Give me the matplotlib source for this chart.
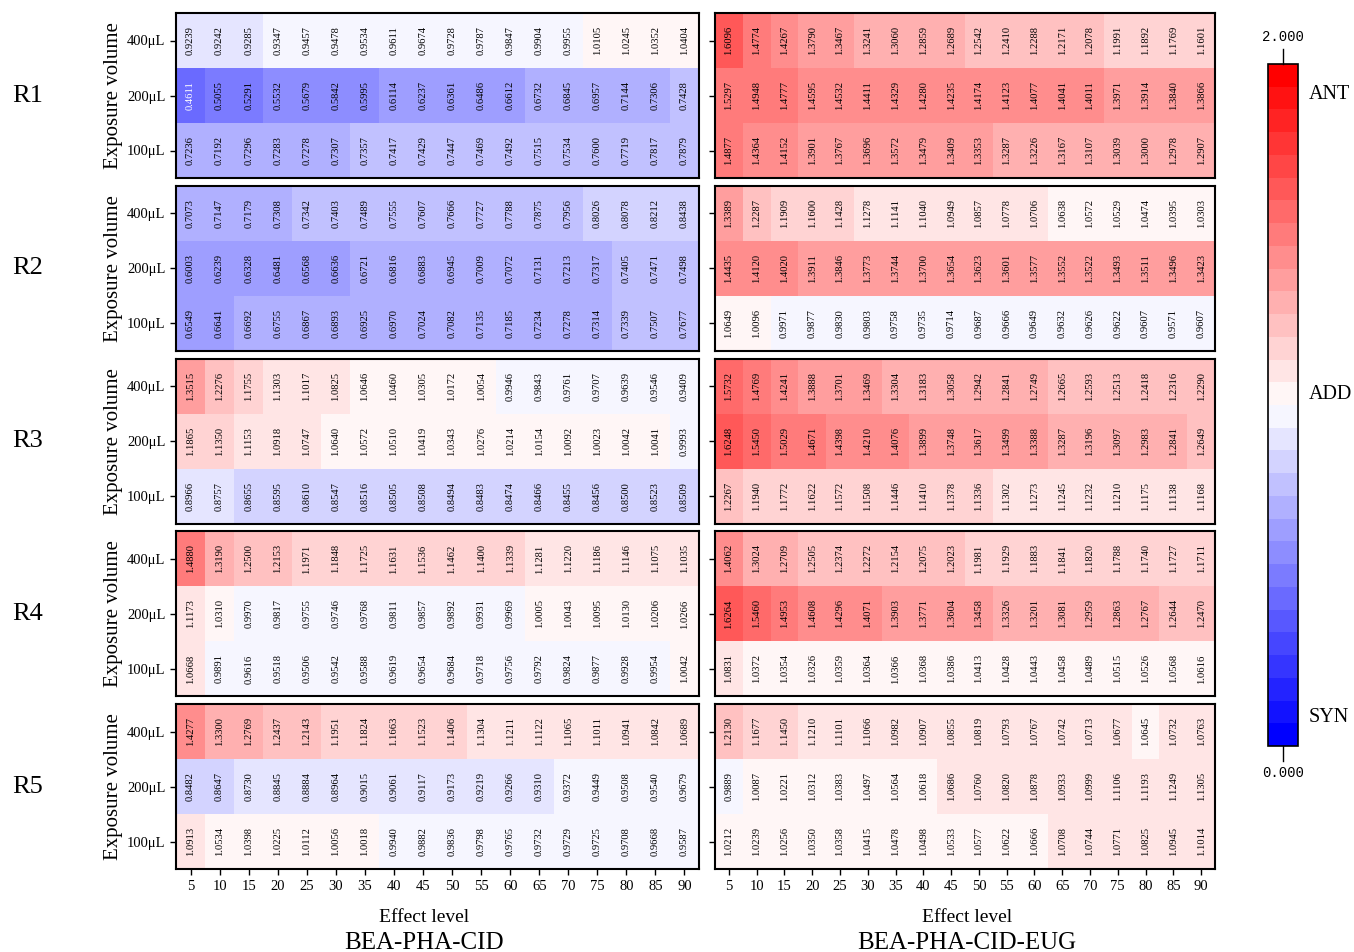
import matplotlib
matplotlib.use("Agg")
import matplotlib.pyplot as plt
import numpy as np

plt.rcParams['font.family'] = ['Liberation Serif', 'DejaVu Serif']

effect_levels = [5, 10, 15, 20, 25, 30, 35, 40, 45, 50, 55, 60, 65, 70, 75, 80, 85, 90]
volumes = ['400μL', '200μL', '100μL']
rows = ['R1', 'R2', 'R3', 'R4', 'R5']
mixtures = ['BEA-PHA-CID', 'BEA-PHA-CID-EUG']

# BEA-PHA-CID, rows: 400, 200, 100 uL
r1_cid = [[0.9239, 0.9242, 0.9285, 0.9347, 0.9457, 0.9478, 0.9534, 0.9611, 0.9674, 0.9728, 0.9787, 0.9847, 0.9904, 0.9955, 1.0105, 1.0245, 1.0352, 1.0404],
          [0.4611, 0.5055, 0.5291, 0.5532, 0.5679, 0.5842, 0.5995, 0.6114, 0.6237, 0.6361, 0.6486, 0.6612, 0.6732, 0.6845, 0.6957, 0.7144, 0.7306, 0.7428],
          [0.7236, 0.7192, 0.7296, 0.7283, 0.7278, 0.7307, 0.7357, 0.7417, 0.7429, 0.7447, 0.7469, 0.7492, 0.7515, 0.7534, 0.7600, 0.7719, 0.7817, 0.7879]]
r2_cid = [[0.7073, 0.7147, 0.7179, 0.7308, 0.7342, 0.7403, 0.7489, 0.7555, 0.7607, 0.7666, 0.7727, 0.7788, 0.7875, 0.7956, 0.8026, 0.8078, 0.8212, 0.8438],
          [0.6003, 0.6239, 0.6328, 0.6481, 0.6568, 0.6636, 0.6721, 0.6816, 0.6883, 0.6945, 0.7009, 0.7072, 0.7131, 0.7213, 0.7317, 0.7405, 0.7471, 0.7498],
          [0.6549, 0.6641, 0.6692, 0.6755, 0.6867, 0.6893, 0.6925, 0.6970, 0.7024, 0.7082, 0.7135, 0.7185, 0.7234, 0.7278, 0.7314, 0.7339, 0.7507, 0.7677]]
r3_cid = [[1.3515, 1.2276, 1.1755, 1.1303, 1.1017, 1.0825, 1.0646, 1.0460, 1.0305, 1.0172, 1.0054, 0.9946, 0.9843, 0.9761, 0.9707, 0.9639, 0.9546, 0.9409],
          [1.1865, 1.1350, 1.1153, 1.0918, 1.0747, 1.0640, 1.0572, 1.0510, 1.0419, 1.0343, 1.0276, 1.0214, 1.0154, 1.0092, 1.0023, 1.0042, 1.0041, 0.9993],
          [0.8966, 0.8757, 0.8655, 0.8595, 0.8610, 0.8547, 0.8516, 0.8505, 0.8508, 0.8494, 0.8483, 0.8474, 0.8466, 0.8455, 0.8456, 0.8500, 0.8523, 0.8509]]
r4_cid = [[1.4880, 1.3190, 1.2500, 1.2153, 1.1971, 1.1848, 1.1725, 1.1631, 1.1536, 1.1462, 1.1400, 1.1339, 1.1281, 1.1220, 1.1186, 1.1146, 1.1075, 1.1035],
          [1.1173, 1.0310, 0.9970, 0.9817, 0.9755, 0.9746, 0.9768, 0.9811, 0.9857, 0.9892, 0.9931, 0.9969, 1.0005, 1.0043, 1.0095, 1.0130, 1.0206, 1.0266],
          [1.0668, 0.9891, 0.9616, 0.9518, 0.9506, 0.9542, 0.9588, 0.9619, 0.9654, 0.9684, 0.9718, 0.9756, 0.9792, 0.9824, 0.9877, 0.9928, 0.9954, 1.0042]]
r5_cid = [[1.4277, 1.3300, 1.2769, 1.2437, 1.2143, 1.1951, 1.1824, 1.1663, 1.1523, 1.1406, 1.1304, 1.1211, 1.1122, 1.1065, 1.1011, 1.0941, 1.0842, 1.0689],
          [0.8482, 0.8647, 0.8730, 0.8845, 0.8884, 0.8964, 0.9015, 0.9061, 0.9117, 0.9173, 0.9219, 0.9266, 0.9310, 0.9372, 0.9449, 0.9508, 0.9540, 0.9679],
          [1.0913, 1.0534, 1.0398, 1.0225, 1.0112, 1.0056, 1.0018, 0.9940, 0.9882, 0.9836, 0.9798, 0.9765, 0.9732, 0.9729, 0.9725, 0.9708, 0.9668, 0.9587]]

# BEA-PHA-CID-EUG
r1_eug = [[1.6096, 1.4774, 1.4267, 1.3790, 1.3467, 1.3241, 1.3060, 1.2859, 1.2689, 1.2542, 1.2410, 1.2288, 1.2171, 1.2078, 1.1991, 1.1892, 1.1769, 1.1601],
          [1.5297, 1.4948, 1.4777, 1.4595, 1.4532, 1.4411, 1.4329, 1.4280, 1.4235, 1.4174, 1.4123, 1.4077, 1.4041, 1.4011, 1.3971, 1.3914, 1.3840, 1.3866],
          [1.4877, 1.4364, 1.4152, 1.3901, 1.3767, 1.3696, 1.3572, 1.3479, 1.3409, 1.3353, 1.3287, 1.3226, 1.3167, 1.3107, 1.3039, 1.3000, 1.2978, 1.2907]]
r2_eug = [[1.3389, 1.2287, 1.1909, 1.1600, 1.1428, 1.1278, 1.1141, 1.1040, 1.0949, 1.0857, 1.0778, 1.0706, 1.0638, 1.0572, 1.0529, 1.0474, 1.0395, 1.0303],
          [1.4435, 1.4120, 1.4020, 1.3911, 1.3846, 1.3773, 1.3744, 1.3700, 1.3654, 1.3623, 1.3601, 1.3577, 1.3552, 1.3522, 1.3493, 1.3511, 1.3496, 1.3423],
          [1.0649, 1.0096, 0.9971, 0.9877, 0.9830, 0.9803, 0.9758, 0.9735, 0.9714, 0.9687, 0.9666, 0.9649, 0.9632, 0.9626, 0.9622, 0.9607, 0.9571, 0.9607]]
r3_eug = [[1.5732, 1.4769, 1.4241, 1.3888, 1.3701, 1.3469, 1.3304, 1.3183, 1.3058, 1.2942, 1.2841, 1.2749, 1.2665, 1.2593, 1.2513, 1.2418, 1.2316, 1.2290],
          [1.6248, 1.5450, 1.5029, 1.4671, 1.4398, 1.4210, 1.4076, 1.3899, 1.3748, 1.3617, 1.3499, 1.3388, 1.3287, 1.3196, 1.3097, 1.2983, 1.2841, 1.2649],
          [1.2267, 1.1940, 1.1772, 1.1622, 1.1572, 1.1508, 1.1446, 1.1410, 1.1378, 1.1336, 1.1302, 1.1273, 1.1245, 1.1232, 1.1210, 1.1175, 1.1138, 1.1168]]
r4_eug = [[1.4062, 1.3024, 1.2709, 1.2505, 1.2374, 1.2272, 1.2154, 1.2075, 1.2023, 1.1981, 1.1929, 1.1883, 1.1841, 1.1820, 1.1788, 1.1740, 1.1727, 1.1711],
          [1.6264, 1.5460, 1.4953, 1.4608, 1.4296, 1.4071, 1.3903, 1.3771, 1.3604, 1.3458, 1.3326, 1.3201, 1.3081, 1.2959, 1.2863, 1.2767, 1.2644, 1.2470],
          [1.0831, 1.0372, 1.0354, 1.0326, 1.0359, 1.0364, 1.0366, 1.0368, 1.0386, 1.0413, 1.0428, 1.0443, 1.0458, 1.0489, 1.0515, 1.0526, 1.0568, 1.0616]]
r5_eug = [[1.2130, 1.1677, 1.1450, 1.1210, 1.1101, 1.1066, 1.0982, 1.0907, 1.0855, 1.0819, 1.0793, 1.0767, 1.0742, 1.0713, 1.0677, 1.0645, 1.0732, 1.0763],
          [0.9889, 1.0087, 1.0221, 1.0312, 1.0383, 1.0497, 1.0564, 1.0618, 1.0686, 1.0760, 1.0820, 1.0878, 1.0933, 1.0999, 1.1106, 1.1193, 1.1249, 1.1305],
          [1.0212, 1.0239, 1.0256, 1.0350, 1.0358, 1.0415, 1.0478, 1.0498, 1.0533, 1.0577, 1.0622, 1.0666, 1.0708, 1.0744, 1.0771, 1.0825, 1.0945, 1.1014]]

cid_data = [r1_cid, r2_cid, r3_cid, r4_cid, r5_cid]
eug_data = [r1_eug, r2_eug, r3_eug, r4_eug, r5_eug]

cmap = plt.get_cmap('bwr', 30)
norm = matplotlib.colors.Normalize(vmin=0, vmax=2)

fig = plt.figure(figsize=(13.54, 9.52), dpi=100)

col_left = [176 / 1354, 715 / 1354]
col_width = [523 / 1354, 500 / 1354]
label_x = [0.475, 0.504]
row_h = 165 / 952
row_gap = 7.8 / 952
top = 1 - 13 / 952

mesh = None
for c, data in enumerate([cid_data, eug_data]):
    for r in range(5):
        bottom = top - (r + 1) * row_h - r * row_gap
        ax = fig.add_axes([col_left[c], bottom, col_width[c], row_h])
        arr = np.array(data[r])
        mesh = ax.pcolormesh(np.arange(len(effect_levels) + 1), np.arange(len(volumes) + 1),
                             arr, cmap=cmap, norm=norm)
        ax.set_xlim(0, len(effect_levels))
        ax.set_ylim(len(volumes), 0)
        for i in range(arr.shape[0]):
            for j in range(arr.shape[1]):
                v = arr[i, j]
                ax.text(j + 0.5, i + 0.5, '%.4f' % v, rotation=90, ha='center', va='center',
                        fontsize=7.6, color='white' if v < 0.48 else 'black')
        ax.set_yticks(np.arange(len(volumes)) + 0.5)
        if c == 0:
            ax.set_yticklabels(volumes, fontsize=10.5)
            ax.set_ylabel('Exposure volume', fontsize=15, labelpad=3)
            fig.text(28 / 1354, bottom + row_h / 2, rows[r], fontsize=19,
                     ha='center', va='center')
        else:
            ax.set_yticklabels([])
        if r == 4:
            ax.set_xticks(np.arange(len(effect_levels)) + 0.5)
            ax.set_xticklabels(effect_levels, fontsize=10.5)
            ax.text(label_x[c], -0.29, 'Effect level', transform=ax.transAxes, fontsize=14,
                    ha='center', va='center')
            ax.text(label_x[c], -0.45, mixtures[c], transform=ax.transAxes, fontsize=18,
                    ha='center', va='center')
        else:
            ax.set_xticks([])
        ax.tick_params(length=4, width=1)
        for s in ax.spines.values():
            s.set_linewidth(1.5)

cax = fig.add_axes([1268 / 1354, 1 - 746 / 952, 30 / 1354, 682 / 952])
cb = fig.colorbar(mesh, cax=cax)
cb.set_ticks([])
cb.outline.set_linewidth(1.2)
cax.plot([0.5, 0.5], [1.0, 1.022], color='black', lw=1, transform=cax.transAxes, clip_on=False)
cax.plot([0.5, 0.5], [0.0, -0.022], color='black', lw=1, transform=cax.transAxes, clip_on=False)
cax.text(0.5, 1.03, '2.000', transform=cax.transAxes, ha='center', va='bottom',
         fontsize=10, family='Liberation Mono')
cax.text(0.5, -0.03, '0.000', transform=cax.transAxes, ha='center', va='top',
         fontsize=10, family='Liberation Mono')
for lab, val in [('ANT', 1.91), ('ADD', 1.03), ('SYN', 0.085)]:
    cax.text(1.35, val, lab, transform=cax.get_yaxis_transform(), fontsize=14.5,
             ha='left', va='center')

fig.savefig('out.png', dpi=100)
